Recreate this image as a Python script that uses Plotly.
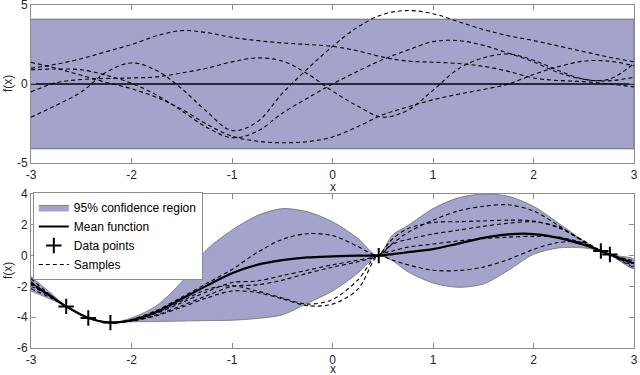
import plotly.graph_objects as go
from plotly.subplots import make_subplots

# ---------------- top panel (prior) ----------------
xt = [-3, -2.75, -2.5, -2.25, -2, -1.75, -1.5, -1.25, -1, -0.75, -0.5, -0.25, 0,
      0.25, 0.5, 0.75, 1, 1.25, 1.5, 1.75, 2, 2.25, 2.5, 2.75, 3]
prior_band_x = [-3, 3]
prior_upper = [4.1, 4.1]
prior_lower = [-4.1, -4.1]
prior_mean = [0, 0]
prior_samples = [
    [1.0, 1.25, 1.6, 2.05, 2.5, 3.05, 3.38, 3.25, 2.95, 2.75, 2.6, 2.5, 2.38,
     2.1, 1.7, 1.45, 1.38, 1.3, 1.12, 0.8, 0.38, 0.22, 0.15, 0.0, -0.18],
    [-0.5, 0.08, 0.28, 0.35, 0.38, 0.45, 0.7, 1.0, 1.4, 1.65, 1.45, 0.65, -0.45,
     -1.4, -2.1, -1.65, -0.4, 0.95, 1.65, 1.9, 1.5, 0.85, 0.3, 0.3, 1.3],
    [0.9, 0.95, 0.9, 0.55, 0.05, -0.7, -1.7, -2.75, -3.4, -3.0, -1.85, -0.9, 0.0,
     0.8, 1.55, 2.15, 2.68, 2.75, 2.45, 1.95, 1.4, 0.72, 0.3, 0.2, 0.43],
    [1.37, 1.0, 0.55, 0.1, -0.3, -0.85, -1.6, -2.55, -3.3, -3.62, -3.72, -3.65, -3.35,
     -2.7, -1.95, -1.45, -1.0, -0.65, -0.35, 0.0, 0.6, 1.1, 1.45, 1.45, 1.15],
    [-2.1, -1.35, -0.5, 0.75, 1.33, 0.85, -0.3, -1.75, -2.95, -2.4, -0.6, 0.95, 2.38,
     3.6, 4.4, 4.65, 4.45, 3.95, 3.45, 3.05, 2.75, 2.4, 2.05, 1.7, 1.4],
]

# ---------------- bottom panel (posterior) ----------------
xb = [-3, -2.8, -2.65, -2.43, -2.21, -2.0, -1.75, -1.5, -1.25, -1.0, -0.75, -0.5,
      -0.25, 0, 0.25, 0.45, 0.6, 0.75, 1.0, 1.25, 1.5, 1.75, 2.0, 2.25, 2.5, 2.67,
      2.76, 3.0]
post_mean = [-1.8, -2.65, -3.3, -4.05, -4.35, -4.2, -3.65, -2.8, -1.95, -1.15, -0.6,
             -0.3, -0.12, -0.05, 0.0, 0.0, 0.1, 0.22, 0.42, 0.78, 1.15, 1.38, 1.4,
             1.15, 0.7, 0.3, 0.06, -0.5]
post_upper = [-1.35, -2.45, -3.3, -4.05, -4.35, -4.05, -3.25, -1.7, 0.4, 1.65, 2.6,
              3.05, 2.85, 2.2, 1.13, 0.0, 1.35, 1.95, 3.05, 3.75, 4.0, 3.85, 3.2,
              2.1, 0.95, 0.3, 0.06, -0.25]
post_lower = [-2.3, -2.85, -3.3, -4.05, -4.35, -4.3, -4.28, -4.25, -4.22, -4.2, -4.08,
              -3.85, -3.1, -2.3, -1.15, 0.0, -0.35, -1.05, -1.78, -2.06, -1.85, -0.95,
              0.08, 0.5, 0.5, 0.3, 0.06, -0.85]
post_samples = [
    [-1.5, -2.6, -3.3, -4.05, -4.35, -4.15, -3.55, -2.7, -1.8, -0.9, 0.2, 1.05,
     1.42, 1.3, 0.6, 0.0, 0.75, 1.05, 1.4, 1.65, 1.9, 2.1, 2.2, 1.85, 0.95, 0.3, 0.06, -0.35],
    [-1.7, -2.65, -3.3, -4.05, -4.35, -4.2, -3.75, -3.05, -2.35, -1.75, -1.65, -1.3,
     -0.95, -0.6, -0.3, 0.0, 0.8, 1.5, 2.3, 2.9, 3.2, 3.3, 2.9, 1.95, 0.9, 0.3, 0.06, -0.45],
    [-1.9, -2.7, -3.3, -4.05, -4.35, -4.25, -3.85, -3.25, -2.6, -2.0, -1.9, -1.6,
     -1.15, -0.75, -0.4, 0.0, 1.1, 1.75, 2.15, 2.2, 2.25, 2.3, 2.25, 1.8, 0.95, 0.3, 0.06, -0.55],
    [-2.0, -2.6, -3.3, -4.05, -4.35, -4.2, -3.7, -2.95, -2.2, -1.95, -2.3, -2.75,
     -3.15, -2.85, -1.6, 0.0, -0.3, -0.6, -0.95, -0.97, -0.75, -0.25, 0.4, 0.85, 0.85, 0.3, 0.06, -0.7],
    [-2.15, -2.75, -3.3, -4.05, -4.35, -4.25, -3.9, -3.35, -2.75, -2.3, -2.4, -2.8,
     -3.25, -3.15, -2.2, 0.0, 0.3, 0.55, 0.75, 0.95, 1.1, 1.2, 1.25, 1.2, 0.8, 0.3, 0.06, -0.8],
]
data_x = [-2.65, -2.43, -2.21, 0.46, 2.67, 2.76]
data_y = [-3.3, -4.05, -4.35, 0.0, 0.3, 0.07]

legend_labels = ["95% confidence region", "Mean function", "Data points", "Samples"]
x_ticks = [-3, -2, -1, 0, 1, 2, 3]
top_y_ticks = [-5, 0, 5]
bottom_y_ticks = [-6, -4, -2, 0, 2, 4]

BAND = "rgb(163,163,204)"
EDGE = "rgb(110,110,110)"
FONT = "Liberation Sans, Arial, sans-serif"
TXT = "#262626"

fig = make_subplots(rows=2, cols=1)

# top panel
fig.add_trace(go.Scatter(x=prior_band_x + prior_band_x[::-1],
                         y=prior_upper + prior_lower[::-1],
                         fill="toself", fillcolor=BAND, mode="lines",
                         line=dict(color=EDGE, width=1), showlegend=False,
                         hoverinfo="skip"), row=1, col=1)
for s in prior_samples:
    fig.add_trace(go.Scatter(x=xt, y=s, mode="lines",
                             line=dict(color="black", width=1.1, dash="4px,3px",
                                       shape="spline", smoothing=1.0),
                             showlegend=False), row=1, col=1)
fig.add_trace(go.Scatter(x=prior_band_x, y=prior_mean, mode="lines",
                         line=dict(color="black", width=1.6), showlegend=False),
              row=1, col=1)

# bottom panel
fig.add_trace(go.Scatter(x=xb + xb[::-1], y=post_upper + post_lower[::-1],
                         fill="toself", fillcolor=BAND, mode="lines",
                         line=dict(color=EDGE, width=0.8, shape="spline", smoothing=0.8),
                         name=legend_labels[0], legendrank=1, hoverinfo="skip"),
              row=2, col=1)
for i, s in enumerate(post_samples):
    fig.add_trace(go.Scatter(x=xb, y=s, mode="lines",
                             line=dict(color="black", width=1.1, dash="4px,3px",
                                       shape="spline", smoothing=0.9),
                             name=legend_labels[3], legendgroup="samples",
                             showlegend=(i == 0), legendrank=4), row=2, col=1)
fig.add_trace(go.Scatter(x=xb, y=post_mean, mode="lines",
                         line=dict(color="black", width=2.2, shape="spline", smoothing=0.9),
                         name=legend_labels[1], legendrank=2), row=2, col=1)
fig.add_trace(go.Scatter(x=data_x, y=data_y, mode="markers",
                         marker=dict(symbol="cross-thin", size=11,
                                     line=dict(color="black", width=2)),
                         name=legend_labels[2], legendrank=3), row=2, col=1)

axis_common = dict(showgrid=False, zeroline=False, showline=True, linecolor="#8c8c8c",
                   linewidth=1, mirror="ticks", ticks="inside", ticklen=5,
                   tickcolor="#8c8c8c", automargin=False, ticklabeloverflow="allow",
                   tickfont=dict(size=12, color=TXT, family=FONT))

fig.update_xaxes(range=[-3, 3], tickvals=x_ticks, ticktext=[str(v) for v in x_ticks],
                 ticklabelstandoff=1, **axis_common)
fig.update_yaxes(range=[-5, 5], tickvals=top_y_ticks,
                 ticktext=[str(v) for v in top_y_ticks], row=1, col=1, **axis_common)
fig.update_yaxes(range=[-6, 4], tickvals=bottom_y_ticks,
                 ticktext=[str(v) for v in bottom_y_ticks], row=2, col=1, **axis_common)

# axis titles
title_font = dict(size=12, color=TXT, family=FONT)
for xr, yr, shift in (("x domain", "y domain", -24), ("x2 domain", "y2 domain", -21)):
    fig.add_annotation(text="x", xref=xr, yref=yr, x=0.5, y=0, xanchor="center",
                       yanchor="middle", yshift=shift, showarrow=False, font=title_font)
    fig.add_annotation(text="f(x)", xref=xr, yref=yr, x=0, y=0.5, xanchor="center",
                       yanchor="middle", xshift=-23, textangle=-90, showarrow=False,
                       font=title_font)

fig.update_layout(
    width=640, height=375,
    margin=dict(l=31, r=6, t=5, b=27),
    paper_bgcolor="white", plot_bgcolor="white",
    font=dict(family=FONT, size=12, color=TXT),
    legend=dict(x=0.003, y=0.4548, xanchor="left", yanchor="top",
                bgcolor="white", bordercolor="#8c8c8c", borderwidth=1,
                font=dict(size=12, color="black", family=FONT),
                tracegroupgap=0, itemwidth=30),
)
fig.update_layout(yaxis=dict(domain=[0.5394, 1.0]), yaxis2=dict(domain=[0.0, 0.449]))

fig.write_html("out.html",
               config={"displayModeBar": False},
               post_script="document.body.style.margin='0';"
                           "document.body.style.overflow='hidden';"
                           "document.documentElement.style.overflow='hidden';")
